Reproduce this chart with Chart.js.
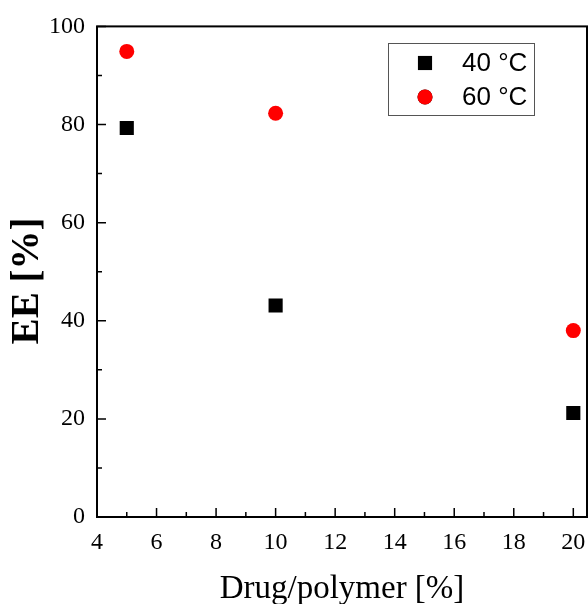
<!DOCTYPE html>
<html>
<head>
<meta charset="utf-8">
<script src="https://cdn.jsdelivr.net/npm/chart.js@4.4.1/dist/chart.umd.min.js"></script>
<style>
  html, body { margin: 0; padding: 0; background: #fff; }
  #wrap { width: 588px; height: 604px; }
</style>
</head>
<body>
<div id="wrap"><canvas id="myChart" width="588" height="604"></canvas></div>
<script>
// data
const drugPolymer = [5, 10, 20];
const ee40 = [79.3, 43.1, 21.2];
const ee60 = [94.9, 82.3, 38.0];
const seriesNames = ['40 °C', '60 °C'];
const xTicks = [4, 6, 8, 10, 12, 14, 16, 18, 20];
const yTicks = [0, 20, 40, 60, 80, 100];
const xTitle = 'Drug/polymer [%]';
const yTitle = 'EE [%]';

const serif = "'Times New Roman', 'Liberation Serif', serif";
const sans = "Arial, 'Liberation Sans', sans-serif";

function toPoints(xs, ys) {
  return xs.map((x, i) => ({ x: x, y: ys[i] }));
}

// box + inward ticks + x labels + axis titles
const frame = {
  id: 'frame',
  afterDraw(chart) {
    const c = chart.ctx, a = chart.chartArea;
    const xs = chart.scales.x, ys = chart.scales.y;
    c.save();
    c.strokeStyle = '#000';
    c.lineWidth = 2;
    c.strokeRect(a.left, a.top, a.right - a.left, a.bottom - a.top);
    c.lineWidth = 1.5;
    c.beginPath();
    for (let v = 4; v <= 20; v++) {
      const px = xs.getPixelForValue(v);
      const len = v % 2 == 0 ? 9 : 5;
      c.moveTo(px, a.bottom);
      c.lineTo(px, a.bottom - len);
    }
    for (let v = 0; v <= 100; v += 10) {
      const py = ys.getPixelForValue(v);
      const len = v % 20 == 0 ? 9 : 5;
      c.moveTo(a.left, py);
      c.lineTo(a.left + len, py);
    }
    c.stroke();

    c.fillStyle = '#000';
    c.textAlign = 'center';
    c.textBaseline = 'middle';
    c.font = '24px ' + serif;
    xTicks.forEach(v => c.fillText(String(v), xs.getPixelForValue(v), a.bottom + 26));

    c.font = '33px ' + serif;
    c.fillText(xTitle, (a.left + a.right) / 2, 589);

    c.translate(28, 281);
    c.rotate(-Math.PI / 2);
    c.font = 'bold 39px ' + serif;
    c.fillText(yTitle, 0, 0);
    c.restore();
  }
};

// legend box in the upper right
const legendBox = {
  id: 'legendBox',
  afterDraw(chart) {
    const c = chart.ctx;
    const x0 = 388, y0 = 43, w = 146, h = 72;
    c.save();
    c.fillStyle = '#fff';
    c.fillRect(x0, y0, w, h);
    c.strokeStyle = '#555';
    c.lineWidth = 1;
    c.strokeRect(x0 + 0.5, y0 + 0.5, w, h);
    const rows = [63, 97];
    chart.data.datasets.forEach((ds, i) => {
      Chart.helpers.drawPoint(c, {
        pointStyle: ds.pointStyle,
        radius: ds.pointRadius,
        borderWidth: 0
      }, 425, rows[i]);
      c.fillStyle = ds.backgroundColor;
      c.fill();
      c.fillStyle = '#000';
      c.font = '26px ' + sans;
      c.textBaseline = 'middle';
      c.fillText(seriesNames[i], 462, rows[i] + 1);
    });
    c.restore();
  }
};

new Chart(document.getElementById('myChart'), {
  type: 'scatter',
  data: {
    datasets: [{
      label: seriesNames[0],
      data: toPoints(drugPolymer, ee40),
      pointStyle: 'rect',
      pointRadius: 10,
      backgroundColor: '#000',
      borderWidth: 0
    }, {
      label: seriesNames[1],
      data: toPoints(drugPolymer, ee60),
      pointStyle: 'circle',
      pointRadius: 7.5,
      backgroundColor: '#ff0000',
      borderWidth: 0
    }]
  },
  options: {
    responsive: false,
    animation: false,
    // autoPadding off, otherwise the point radius eats 10px on the right
    layout: { autoPadding: false, padding: { top: 25, right: 1, left: 0, bottom: 0 } },
    plugins: {
      legend: { display: false },
      tooltip: { enabled: false }
    },
    scales: {
      x: {
        type: 'linear',
        min: 4,
        max: 20.46,
        afterFit(s) { s.height = 87; },
        afterBuildTicks(s) { s.ticks = xTicks.map(v => ({ value: v })); },
        grid: { display: false, drawTicks: false },
        border: { display: false },
        ticks: { display: false },
        title: { display: false }
      },
      y: {
        min: 0,
        max: 100,
        afterFit(s) { s.width = 97; },
        afterBuildTicks(s) { s.ticks = yTicks.map(v => ({ value: v })); },
        grid: { display: false, drawTicks: false },
        border: { display: false },
        ticks: { color: '#000', padding: 12, font: { family: serif, size: 24 } },
        title: { display: false }
      }
    }
  },
  plugins: [frame, legendBox]
});
</script>
</body>
</html>
